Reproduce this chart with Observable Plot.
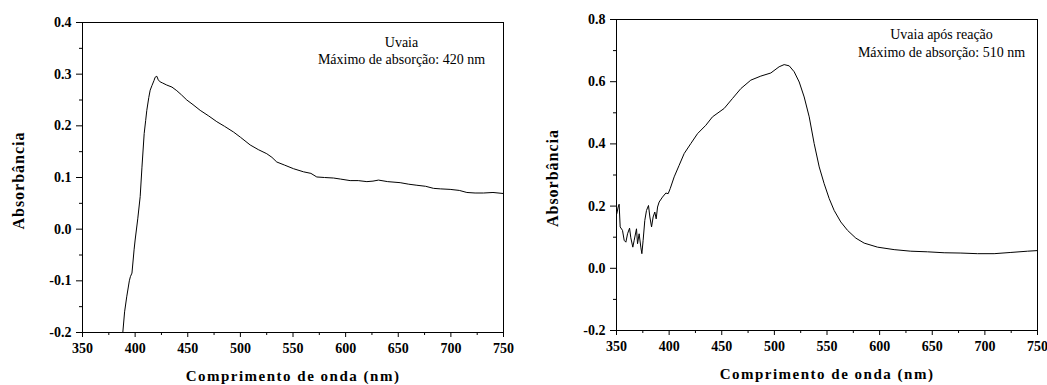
<!DOCTYPE html>
<html>
<head>
<meta charset="utf-8">
<script src="https://cdn.jsdelivr.net/npm/d3@7"></script>
<script src="https://cdn.jsdelivr.net/npm/@observablehq/plot@0.6"></script>
<style>
  html, body { margin: 0; padding: 0; background: #fff; }
  #wrap { position: relative; width: 1047px; height: 385px; overflow: hidden; }
  #left { position: absolute; left: 0; top: 0; }
  #right { position: absolute; left: 527px; top: 0; }
  svg, svg text { font-family: "Liberation Serif", "DejaVu Serif", serif !important; }
</style>
</head>
<body>
<div id="wrap"><div id="left"></div><div id="right"></div></div>
<script>
// ---- data ----
const leftWavelength = [388.3,390,392,394.5,395.5,397,399,400,402.5,404.8,406.5,408.6,410,411.1,413,414.3,416,418,419,420.6,422,423.8,426,430,435,439.6,444,449.1,455,461.8,470,477.6,485,493.5,500,509.3,517,525.1,530,534.6,542,550.5,560,567,572.6,580,588.5,595,604.3,612,620.2,626,631.2,640,651.8,660,667.7,676,683.5,690,699.3,708,715.2,723,731,740,750];
const leftAbsorbance = [-0.2,-0.16,-0.131,-0.10,-0.092,-0.085,-0.04,-0.021,0.02,0.063,0.12,0.185,0.21,0.23,0.255,0.269,0.278,0.288,0.294,0.296,0.289,0.285,0.283,0.279,0.275,0.268,0.26,0.25,0.241,0.23,0.219,0.208,0.199,0.188,0.178,0.163,0.154,0.146,0.139,0.13,0.124,0.117,0.111,0.108,0.101,0.1,0.099,0.097,0.094,0.094,0.092,0.093,0.095,0.092,0.09,0.087,0.085,0.083,0.079,0.078,0.077,0.075,0.071,0.07,0.07,0.071,0.069];

const rightWavelength = [350.3,351.6,352.5,353.5,355.7,357.3,358.9,360.5,362.4,363.6,365.5,366.8,369.0,370.0,371.5,373.1,374.1,375.3,376.9,378.5,380.4,381.7,383.3,384.8,386.4,387.7,389.0,390.5,393.7,396.9,399.1,401.0,404.8,409.5,414.3,420.6,427.0,434.9,441.2,452.3,460.2,468.2,477.6,487.1,496.6,504.5,509.3,514.1,518.8,523.6,528.3,533.1,537.8,542.6,547.3,552.1,556.8,563.1,569.5,577.4,585.3,598.0,613.8,629.6,645.5,661.3,677.2,693.0,708.8,724.7,740.5,750];
const rightAbsorbance = [0.176,0.197,0.206,0.133,0.122,0.09,0.084,0.111,0.129,0.098,0.068,0.09,0.127,0.079,0.111,0.068,0.047,0.09,0.154,0.186,0.202,0.165,0.133,0.165,0.181,0.159,0.197,0.213,0.229,0.242,0.24,0.256,0.294,0.331,0.369,0.401,0.433,0.46,0.487,0.514,0.546,0.578,0.605,0.618,0.628,0.648,0.655,0.651,0.632,0.599,0.551,0.487,0.401,0.326,0.272,0.224,0.186,0.149,0.122,0.097,0.081,0.068,0.06,0.055,0.053,0.05,0.049,0.047,0.047,0.051,0.055,0.057];

const xMajorTicks = [350,400,450,500,550,600,650,700,750];
const xMinorTicks = [375,425,475,525,575,625,675,725];
const leftYMajor = [-0.2,-0.1,0.0,0.1,0.2,0.3,0.4];
const leftYMinor = [-0.15,-0.05,0.05,0.15,0.25,0.35];
const rightYMajor = [-0.2,0.0,0.2,0.4,0.6,0.8];
const rightYMinor = [-0.1,0.1,0.3,0.5,0.7];

const xLabel = "Comprimento de onda (nm)";
const yLabel = "Absorbância";
const leftNote = ["Uvaia", "Máximo de absorção: 420 nm"];
const rightNote = ["Uvaia após reação", "Máximo de absorção: 510 nm"];

const FONT = "Liberation Serif";

function chart(opts) {
  const {wl, ab, yDomain, yMajor, yMinor, width, ml, mr, mt, mb, note, noteDx, noteDy1, noteDy2} = opts;
  const data = wl.map((w, i) => ({w, a: ab[i]}));
  const fmt = d => d.toFixed(1);
  const svg = Plot.plot({
    width, height: 385,
    marginLeft: ml, marginRight: mr, marginTop: mt, marginBottom: mb,
    style: {fontFamily: FONT, color: "#000", background: "#fff", overflow: "visible"},
    x: {domain: [350, 750]},
    y: {domain: yDomain},
    marks: [
      Plot.axisX({ticks: xMajorTicks, tickSize: 5, tickPadding: 6, tickFormat: d => String(d), fontFamily: FONT, fontSize: 14, fontWeight: "bold", label: null, stroke: "#000"}),
      Plot.axisX({ticks: xMinorTicks, tickSize: 3, tickFormat: () => "", label: null}),
      Plot.axisY({ticks: yMajor, tickSize: 6, tickPadding: 5, tickFormat: fmt, fontFamily: FONT, fontSize: 14, fontWeight: "bold", label: null}),
      Plot.axisY({ticks: yMinor, tickSize: 3, tickFormat: () => "", label: null}),
      Plot.frame({stroke: "#000", strokeWidth: 1}),
      Plot.line(data, {x: "w", y: "a", stroke: "#000", strokeWidth: 1, clip: true}),
      Plot.text([xLabel], {frameAnchor: "bottom", lineAnchor: "middle", dy: 44, fontFamily: FONT, fontSize: 15, fontWeight: "bold", fill: "#000"}),
      Plot.text([yLabel], {frameAnchor: "left", textAnchor: "middle", lineAnchor: "middle", rotate: -90, dx: -64, dy: 3, fontFamily: FONT, fontSize: 16, fontWeight: "bold", fill: "#000"}),
      Plot.text([note[0]], {frameAnchor: "top-right", textAnchor: "middle", lineAnchor: "middle", dx: noteDx, dy: noteDy1, fontFamily: FONT, fontSize: 14, fill: "#000"}),
      Plot.text([note[1]], {frameAnchor: "top-right", textAnchor: "middle", lineAnchor: "middle", dx: noteDx, dy: noteDy2, fontFamily: FONT, fontSize: 14, fill: "#000"})
    ]
  });
  const sel = d3.select(svg).selectAll("text");
  sel.filter(function() { return this.textContent === xLabel; }).style("letter-spacing", "1.5px");
  sel.filter(function() { return this.textContent === yLabel; }).style("letter-spacing", "1px");
  return svg;
}

document.getElementById("left").append(chart({
  wl: leftWavelength, ab: leftAbsorbance, yDomain: [-0.2, 0.4], yMajor: leftYMajor, yMinor: leftYMinor,
  width: 523, ml: 82, mr: 20, mt: 22, mb: 53, note: leftNote, noteDx: -102, noteDy1: 20, noteDy2: 37
}));
document.getElementById("right").append(chart({
  wl: rightWavelength, ab: rightAbsorbance, yDomain: [-0.2, 0.8], yMajor: rightYMajor, yMinor: rightYMinor,
  width: 520, ml: 89, mr: 10, mt: 19, mb: 55, note: rightNote, noteDx: -96, noteDy1: 15, noteDy2: 33
}));
</script>
</body>
</html>
